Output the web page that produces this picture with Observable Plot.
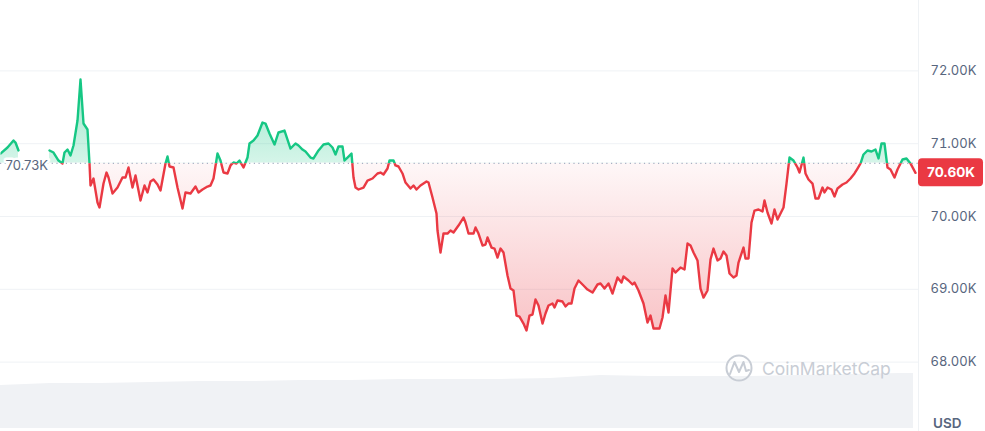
<!DOCTYPE html>
<html><head><meta charset="utf-8">
<script src="https://cdn.jsdelivr.net/npm/d3@7"></script>
<script src="https://cdn.jsdelivr.net/npm/@observablehq/plot@0.6"></script>
<style>
html,body{margin:0;padding:0;background:#fff;}
#wrap{position:relative;width:985px;height:431px;overflow:hidden;font-family:Inter,sans-serif;}
#wrap svg{position:absolute;left:0;}
</style></head><body><div id="wrap"></div>
<script>
// time steps across the 24h window (x positions along the time axis, arbitrary units)
const timeStep = [
0,7,13,15,18,33,49,53,58,62,
64,67,70,73,77,80,83,87,89,90,
93,97,99,103,106,108,112,117,122,125,
128,132,135,140,144,147,150,153,157,160,
165,167,169,173,177,182,185,190,195,198,
202,207,210,213,217,220,223,227,230,233,
236,239,243,247,249,253,257,262,265,269,
274,278,284,290,295,298,302,305,310,313,
318,323,328,332,335,338,342,344,347,351,
353,355,358,363,367,372,377,380,383,387,
389,393,395,398,402,405,410,413,416,420,
426,428,432,436,437,440,443,447,450,453,
458,463,465,468,473,475,478,482,485,487,
491,494,497,500,503,507,510,513,516,519,
523,526,529,532,535,538,542,545,548,552,
554,557,562,565,568,571,574,578,583,587,
592,597,600,604,608,612,617,621,623,628,
632,634,638,643,647,650,653,659,662,665,
668,672,675,680,684,687,690,693,697,700,
703,707,710,713,717,720,723,726,729,733,
736,738,743,745,748,751,754,758,762,764,
767,771,774,777,779,783,786,789,793,797,
799,803,805,808,812,815,818,822,824,827,
831,834,837,842,846,850,854,857,860,863,
867,871,875,878,881,884,887,890,894,897,
902,906,910,915];
// price in USD (null = missing data)
const price = [
70865,70948,71044,71016,70907,null,70907,70879,70769,70728,
70879,70920,70838,70975,71319,71882,71277,71195,70728,70426,
70522,70192,70124,70453,70604,70536,70316,70398,70536,70536,
70673,70398,70563,70220,70426,70330,70481,70508,70440,70357,
70728,70824,70687,70673,70398,70110,70330,70316,70412,70330,
70371,70412,70426,70522,70865,70769,70604,70591,70701,70742,
70728,70769,70673,70810,71003,71044,71113,71291,71277,71140,
70989,71154,71181,70934,71003,70975,70920,70893,70810,70797,
70907,70989,71003,70948,70852,70962,70962,70769,70810,70865,
70536,70398,70371,70398,70494,70522,70591,70604,70577,70659,
70769,70769,70701,70687,70591,70467,70385,70426,70371,70426,
70481,70467,70261,70041,69808,69506,69766,69766,69808,69780,
69876,69986,69918,69766,69766,69849,69766,69602,69615,69712,
69574,69560,69437,69560,69506,69190,69011,68984,68640,68626,
68530,68434,68640,68654,68860,68777,68530,68668,68777,68805,
68750,68846,68832,68764,68805,68805,69011,69121,69052,68997,
68956,69066,69080,69011,69080,68942,69162,69093,69176,69121,
69066,69093,68984,68805,68544,68640,68462,68462,68613,68915,
68681,69286,69231,69299,69272,69629,69602,69506,69396,69011,
68887,68984,69409,69560,69396,69423,69519,69464,69217,69162,
69190,69368,69574,69423,69423,69918,70082,70096,70069,70220,
70055,69904,70096,69959,70014,70124,70453,70810,70769,70673,
70604,70810,70591,70508,70453,70247,70247,70398,70330,70398,
70371,70275,70385,70440,70467,70522,70591,70659,70728,70852,
70907,70893,70920,70797,71003,71003,70673,70646,70536,70646,
70783,70797,70728,70600];
const baseline = 70730;     // opening reference price
const lastPrice = 70600;    // current price
const yTicks = [68000, 69000, 70000, 71000, 72000];
const currency = "USD";
const brand = "CoinMarketCap";
// volume (USD billions) along time
const volTime = [0,50,100,150,200,250,300,350,400,450,500,550,600,650,700,750,800,850,900,913];
const volume = [21.5,22.5,22.5,23,23.5,23.5,24,24,24.5,24.5,24.5,25,26.5,26,26,26,26.5,27,27.5,27.5];

const fmtK = d => (d / 1000).toFixed(2) + "K";
const wrap = document.getElementById("wrap");
const W = 985, H = 431, PR = 67, XMAX = 918;

// Volume chart (underneath)
const volData = volTime.map((t, i) => ({t, v: volume[i]}));
const vchart = Plot.plot({
  width: W, height: 60,
  marginTop: 0, marginBottom: 3, marginLeft: 0, marginRight: PR,
  x: {domain: [0, XMAX], axis: null},
  y: {domain: [0, 28.5], axis: null},
  style: {background: "transparent"},
  marks: [Plot.areaY(volData, {x: "t", y: "v", fill: "#f0f2f5"})]
});
vchart.style.top = "371px";
wrap.appendChild(vchart);

// Price chart
const data = timeStep.map((t, i) => ({t, p: price[i]}));
const chart = Plot.plot({
  width: W, height: H,
  marginTop: 0, marginBottom: 0, marginLeft: 0, marginRight: PR,
  style: {background: "transparent", fontFamily: "Inter, sans-serif", fontSize: "13px", color: "#58667e", overflow: "visible"},
  x: {domain: [0, XMAX], axis: null},
  y: {domain: [67047, 72967], axis: "right", ticks: yTicks, tickFormat: fmtK, tickSize: 0, tickPadding: 12, label: null},
  marks: [
    Plot.ruleY(yTicks, {stroke: "#eff2f5", strokeWidth: 1}),
    Plot.ruleX([XMAX], {stroke: "#eff2f5", strokeWidth: 1}),
    Plot.areaY(data, {x: "t", y1: baseline, y2: "p", fill: "#16c784"}),
    Plot.areaY(data, {x: "t", y1: baseline, y2: "p", fill: "#ea3943"}),
    Plot.ruleY([baseline], {stroke: "#a6b0c3", strokeWidth: 1.2, strokeDasharray: "1.2,3.5"}),
    Plot.lineY(data, {x: "t", y: "p", stroke: "#16c784", strokeWidth: 2.4}),
    Plot.lineY(data, {x: "t", y: "p", stroke: "#ea3943", strokeWidth: 2.4}),
    Plot.text([baseline], {x: 0, y: d => d, text: d => fmtK(d), textAnchor: "start", dx: 5, dy: 2, fill: "#58667e", stroke: "white", strokeWidth: 5, fontSize: 13})
  ]
});
chart.style.top = "0px";
wrap.appendChild(chart);

const ys = chart.scale("y");
const yb = ys.apply(baseline);
const yTop = ys.apply(d3.max(price));
const yBot = ys.apply(d3.min(price));
const ns = "http://www.w3.org/2000/svg";
const defs = document.createElementNS(ns, "defs");
defs.innerHTML = `
<clipPath id="clipUp"><rect x="0" y="0" width="${XMAX}" height="${yb}"/></clipPath>
<clipPath id="clipDown"><rect x="0" y="${yb}" width="${XMAX}" height="${H - yb}"/></clipPath>
<linearGradient id="gUp" gradientUnits="userSpaceOnUse" x1="0" x2="0" y1="${yTop}" y2="${yb}">
  <stop offset="0" stop-color="#16c784" stop-opacity="0.42"/><stop offset="1" stop-color="#16c784" stop-opacity="0.18"/></linearGradient>
<linearGradient id="gDown" gradientUnits="userSpaceOnUse" x1="0" x2="0" y1="${yb}" y2="${yBot}">
  <stop offset="0" stop-color="#ea3943" stop-opacity="0.04"/><stop offset="1" stop-color="#ea3943" stop-opacity="0.3"/></linearGradient>`;
chart.insertBefore(defs, chart.firstChild);

const areas = chart.querySelectorAll('g[aria-label="area"]');
const lines = chart.querySelectorAll('g[aria-label="line"]');
function styleGroup(g, clip, fill) {
  g.setAttribute("clip-path", `url(#${clip})`);
  if (fill) { g.setAttribute("fill", fill); g.querySelectorAll("path").forEach(p => p.setAttribute("fill", fill)); }
}
styleGroup(areas[0], "clipUp", "url(#gUp)");
styleGroup(areas[1], "clipDown", "url(#gDown)");
styleGroup(lines[0], "clipUp");
styleGroup(lines[1], "clipDown");
lines.forEach(g => { g.setAttribute("stroke-linejoin", "round"); g.setAttribute("stroke-linecap", "round"); });

// current price tag
const yl = ys.apply(lastPrice);
const tag = document.createElementNS(ns, "g");
tag.innerHTML = `<rect x="${XMAX}" y="${yl - 14}" width="65" height="28" rx="4" fill="#ea3943"/>
<text x="${XMAX + 9}" y="${yl + 5}" text-anchor="start" fill="#fff" font-size="13.5" font-weight="700" font-family="Inter, sans-serif">${fmtK(lastPrice)}</text>`;
chart.appendChild(tag);

// currency label and watermark
const extra = document.createElementNS(ns, "g");
extra.innerHTML = `<text x="933" y="428" text-anchor="start" fill="#58667e" font-size="13.5" font-weight="600" font-family="Inter, sans-serif">${currency}</text>
<g fill="none" stroke="#c8cdd5" stroke-width="2" stroke-linecap="round" stroke-linejoin="round">
<circle cx="739" cy="368" r="12.5"/>
<path d="M730,374 L734.5,362 L739,372 L743.5,362 L746,371 L749,370"/></g>
<text x="762" y="374.5" text-anchor="start" fill="#c8cdd5" font-size="17.5" font-family="Inter, sans-serif">${brand}</text>`;
chart.appendChild(extra);
</script>
</body></html>
